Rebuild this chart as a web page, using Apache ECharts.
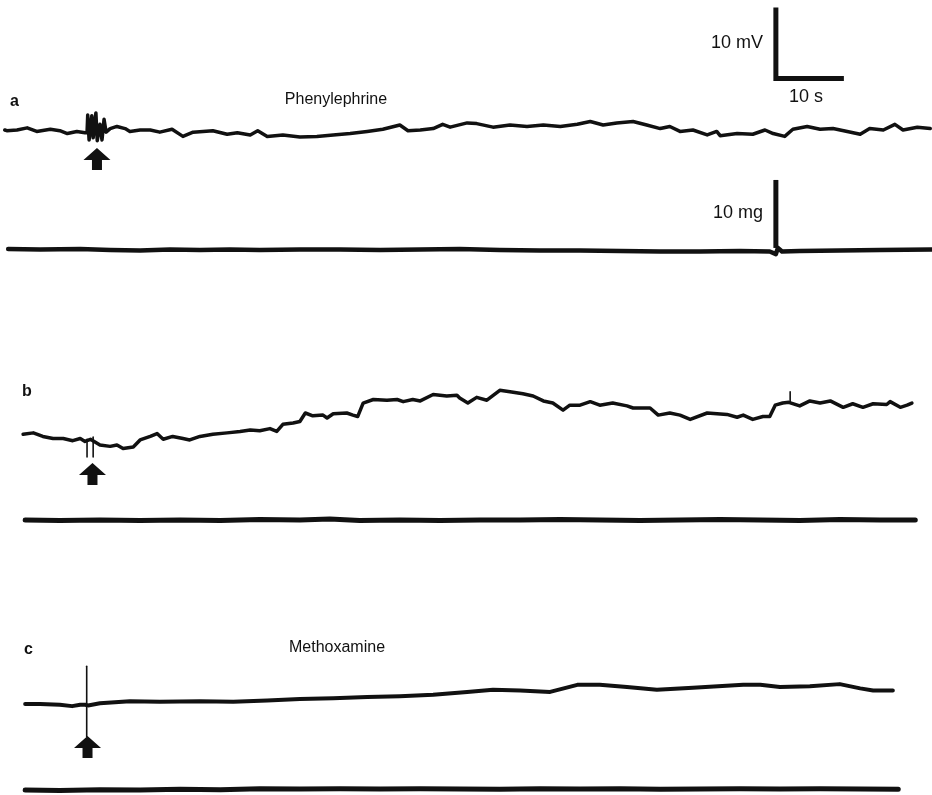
<!DOCTYPE html>
<html><head><meta charset="utf-8">
<script src="https://cdn.jsdelivr.net/npm/echarts@6/dist/echarts.min.js"></script>
<style>html,body{margin:0;padding:0;background:#fff}#c{width:932px;height:795px}</style>
</head><body><div id="c"></div>
<script>
// ---------- DATA (time in s, membrane potential in mV relative to start, tension in mg) ----------
const panelLabels = ['a', 'b', 'c'];
const drugLabels = ['Phenylephrine', 'Methoxamine'];
const scaleLabels = ['10 mV', '10 s', '10 mg'];

// panel a – membrane potential
const voltA = [[0.7,0],[1.0,-0.1],[2.5,0],[4.0,0.3],[5.4,-0.2],[7.4,0.1],[8.8,-0.1],[9.9,-0.5],[11.3,-0.2],[12.5,-0.4],
 [12.8,-0.4],[12.9,2.1],[13.1,-1.4],[13.5,2.0],[13.7,-1.1],[14.1,2.4],[14.3,-1.5],[14.7,0.8],[15.0,-1.4],[15.3,1.5],[15.6,-0.3],
 [16.2,0.2],[17.2,0.5],[18.4,0.2],[19.1,-0.2],[20.6,0],[22.1,0],[23.5,-0.3],[25.3,0.1],[26.9,-0.9],[28.4,-0.3],[31.3,-0.1],
 [33.4,-0.6],[34.9,-0.4],[36.8,-0.7],[37.9,-0.1],[39.3,-0.9],[41.6,-0.7],[44.1,-1.0],[46.6,-0.9],[49.0,-0.7],[51.5,-0.5],
 [54.0,-0.2],[56.3,0.1],[58.8,0.7],[60.0,-0.1],[61.8,0],[63.7,0.2],[65.1,0.8],[66.2,0.4],[68.7,1.0],[70.1,0.9],[72.5,0.4],
 [75.0,0.7],[77.5,0.5],[79.9,0.7],[82.4,0.5],[84.9,0.8],[86.8,1.2],[88.7,0.7],[90.7,1.0],[93.1,1.2],[95.1,0.7],[97.1,0.2],
 [98.5,0.5],[100.0,-0.2],[101.9,0],[104.0,-0.7],[105.4,-0.2],[105.9,-0.8],[108.4,-0.5],[110.7,-0.6],[112.5,0],[113.7,-0.5],
 [115.4,-0.9],[116.6,0.1],[118.7,0.5],[120.6,0.1],[122.5,0.2],[124.6,-0.2],[126.5,-0.6],[127.9,0.2],[129.9,0],[131.6,0.8],
 [132.8,0],[134.9,0.4],[136.8,0.2]];
// panel a – tension
const tensA = [[1.2,0.15],[5.9,0.07],[11.8,0.15],[16.2,0],[20.6,-0.07],[25.0,0.07],[29.4,0],[33.8,0.07],[38.2,0],[44.1,0.07],
 [50.0,0.07],[55.9,0],[61.8,0.07],[67.6,0.15],[73.5,0],[79.4,-0.07],[85.3,-0.07],[91.2,-0.15],[97.1,-0.22],[102.9,-0.22],
 [108.8,-0.15],[113.2,-0.22],[114.1,-0.6],[114.4,0.3],[115.0,-0.22],[117.6,-0.15],[123.5,-0.07],[129.4,0],[137.0,0.07]];

// panel b – membrane potential
const voltB = [[3.4,0.1],[4.9,0.3],[6.3,-0.2],[7.8,-0.5],[9.3,-0.5],[10.7,-0.8],[11.8,-0.5],[12.5,-0.9],[13.3,-0.6],[14.7,-1.4],
 [16.2,-1.6],[17.2,-1.4],[18.1,-1.9],[19.6,-1.7],[20.6,-0.7],[22.1,-0.2],[23.1,0.2],[24.0,-0.6],[25.4,-0.2],[26.9,-0.5],
 [27.9,-0.7],[29.4,-0.2],[31.3,0.1],[33.4,0.3],[35.3,0.5],[36.8,0.7],[38.2,0.6],[39.7,0.9],[40.7,0.5],[41.6,1.5],[43.1,1.7],
 [44.1,1.9],[44.9,3.1],[46.0,2.7],[47.5,2.8],[48.1,2.4],[49.0,3.0],[51.0,3.1],[51.9,2.8],[52.6,2.6],[53.4,4.5],[54.9,5.0],
 [56.9,4.9],[58.4,5.0],[59.3,4.7],[60.7,5.0],[61.8,4.8],[63.7,5.7],[65.7,5.5],[67.2,5.6],[67.6,5.2],[68.8,4.5],[70.1,5.3],
 [71.6,4.9],[73.5,6.3],[75.0,6.1],[76.9,5.8],[78.4,5.5],[79.9,4.8],[81.3,4.5],[82.8,3.5],[83.8,4.2],[85.3,4.2],[86.8,4.7],
 [88.2,4.2],[90.1,4.5],[92.2,4.1],[93.1,3.8],[95.6,3.8],[96.8,2.8],[98.5,3.1],[100.0,2.8],[101.5,2.2],[104.0,3.1],[106.9,2.9],
 [108.4,2.5],[109.3,2.8],[110.7,2.2],[112.2,2.6],[113.2,2.6],[114.0,4.2],[115.1,4.5],[116.0,4.6],[117.6,4.1],[119.1,4.8],
 [120.6,4.5],[122.1,4.8],[124.0,3.9],[125.4,4.4],[126.9,3.9],[128.4,4.4],[130.4,4.3],[130.9,4.7],[132.4,3.9],[133.4,4.2],[134.1,4.5]];
const artefactB1 = [[12.8,-0.6],[12.8,-3.1]];
const artefactB2 = [[13.7,-0.3],[13.7,-3.1]];
const artefactB3 = [[116.2,4.6],[116.2,6.1]];
// panel b – tension
const tensB = [[3.7,0],[8.8,-0.07],[14.7,0],[20.6,-0.07],[26.5,0],[32.4,-0.07],[38.2,0.07],[44.1,0],[48.5,0.15],[52.9,-0.07],
 [58.8,0],[64.7,-0.07],[70.6,0],[76.5,0],[82.4,0.07],[88.2,0],[94.1,-0.07],[100.0,0],[105.9,0.07],[111.8,0],[117.6,-0.07],
 [123.5,0.07],[129.4,0],[134.6,0]];

// panel c – membrane potential
const voltC = [[3.7,0],[5.9,0],[8.8,-0.1],[10.6,-0.3],[11.8,-0.1],[12.5,-0.1],[12.95,-0.2],[14.7,0.1],[19.1,0.4],[23.5,0.3],
 [29.4,0.4],[34.3,0.3],[39.3,0.5],[44.1,0.7],[49.0,0.8],[54.0,1.0],[58.8,1.1],[63.7,1.3],[68.7,1.7],[72.5,2.0],[76.5,1.9],
 [80.9,1.7],[84.9,2.7],[88.2,2.7],[92.2,2.4],[96.6,2.0],[101.9,2.3],[109.3,2.7],[111.8,2.7],[114.7,2.4],[119.1,2.5],
 [123.5,2.8],[126.5,2.2],[128.4,1.9],[131.3,1.9]];
const artefactC = [[12.75,5.3],[12.75,-4.6]];
// panel c – tension
const tensC = [[3.7,0],[8.8,-0.07],[14.7,0.07],[20.6,0],[26.5,0.15],[32.4,0.07],[38.2,0.3],[44.1,0.22],[50.0,0.3],[55.9,0.22],
 [61.8,0.3],[67.6,0.22],[73.5,0.15],[79.4,0.3],[85.3,0.22],[91.2,0.3],[97.1,0.15],[102.9,0.22],[108.8,0.3],[114.7,0.22],
 [120.6,0.3],[126.5,0.22],[132.1,0.15]];

// drug application arrows [time s, level]
const arrowA = [[14.26,-4.1]];
const arrowB = [[13.6,-5.5]];
const arrowC = [[12.87,-6.05]];

// calibration bars
const calVoltTime = [[114.1,17.25],[114.1,7.25],[124.1,7.25]]; // 10 mV, 10 s
const calTension = [[114.1,0.3],[114.1,10.3]];                 // 10 mg

// ---------- LAYOUT ----------
const W = 932, PX_PER_S = 6.8, PX_PER_MV = 7.1, PX_PER_MG = 6.8;
const tMax = W / PX_PER_S;
// [baseline px, yMin, yMax, px per unit]
const gridSpec = [
  [130, -6, 18, PX_PER_MV],   // 0 a voltage
  [250, -2, 11, PX_PER_MG],   // 1 a tension
  [435, -8, 8, PX_PER_MV],    // 2 b voltage
  [520, -1, 1, PX_PER_MG],    // 3 b tension
  [704, -8, 8, PX_PER_MV],    // 4 c voltage
  [792, -1, 1, PX_PER_MG]     // 5 c tension
];
const grids = gridSpec.map(g => ({left: 0, width: W, top: g[0] - g[2] * g[3], height: (g[2] - g[1]) * g[3]}));
const xAxes = gridSpec.map((g, i) => ({type: 'value', gridIndex: i, min: 0, max: tMax, show: false}));
const yAxes = gridSpec.map((g, i) => ({type: 'value', gridIndex: i, min: g[1], max: g[2], show: false}));

const INK = '#111';
function trace(data, gi, width) {
  return {type: 'line', data, xAxisIndex: gi, yAxisIndex: gi, symbol: 'none', silent: true, clip: false,
    lineStyle: {color: INK, width, join: 'round', cap: 'round', opacity: 1}, z: 2};
}
function bar(data, gi) {
  return {type: 'line', data, xAxisIndex: gi, yAxisIndex: gi, symbol: 'none', silent: true, clip: false,
    lineStyle: {color: INK, width: 5, join: 'miter', cap: 'butt', opacity: 1}, z: 3};
}
const ARROW = 'path://M13.5,0 L27,12 L18.5,12 L18.5,22 L8.5,22 L8.5,12 L0,12 Z';
function arrow(data, gi) {
  return {type: 'scatter', data, xAxisIndex: gi, yAxisIndex: gi, symbol: ARROW, symbolSize: [27, 22],
    itemStyle: {color: INK, opacity: 1}, silent: true, clip: false, z: 4};
}

const font = '"Liberation Sans", Arial, Helvetica, sans-serif';
function txt(text, x, y, size, align, weight) {
  return {type: 'text', x, y, style: {text, fill: INK, font: (weight || 'normal') + ' ' + size + 'px ' + font,
    textAlign: align, textVerticalAlign: 'middle'}};
}

const chart = echarts.init(document.getElementById('c'), null, {renderer: 'canvas'});
chart.setOption({
  animation: false,
  backgroundColor: '#fff',
  grid: grids,
  xAxis: xAxes,
  yAxis: yAxes,
  series: [
    trace(voltA, 0, 3.5), trace(tensA, 1, 4.5), bar(calVoltTime, 0), bar(calTension, 1), arrow(arrowA, 0),
    trace(voltB, 2, 3.5), trace(artefactB1, 2, 1.6), trace(artefactB2, 2, 1.6), trace(artefactB3, 2, 1.6),
    trace(tensB, 3, 5), arrow(arrowB, 2),
    trace(voltC, 4, 4), trace(artefactC, 4, 1.6), trace(tensC, 5, 5), arrow(arrowC, 4)
  ],
  graphic: [
    txt(panelLabels[0], 10, 102, 16, 'left', 'bold'),
    txt(panelLabels[1], 22, 392, 16, 'left', 'bold'),
    txt(panelLabels[2], 24, 650, 16, 'left', 'bold'),
    txt(drugLabels[0], 336, 100, 16, 'center'),
    txt(drugLabels[1], 337, 648, 16, 'center'),
    txt(scaleLabels[0], 763, 43, 18, 'right'),
    txt(scaleLabels[1], 806, 97, 18, 'center'),
    txt(scaleLabels[2], 763, 213, 18, 'right')
  ]
});
</script>
</body></html>
